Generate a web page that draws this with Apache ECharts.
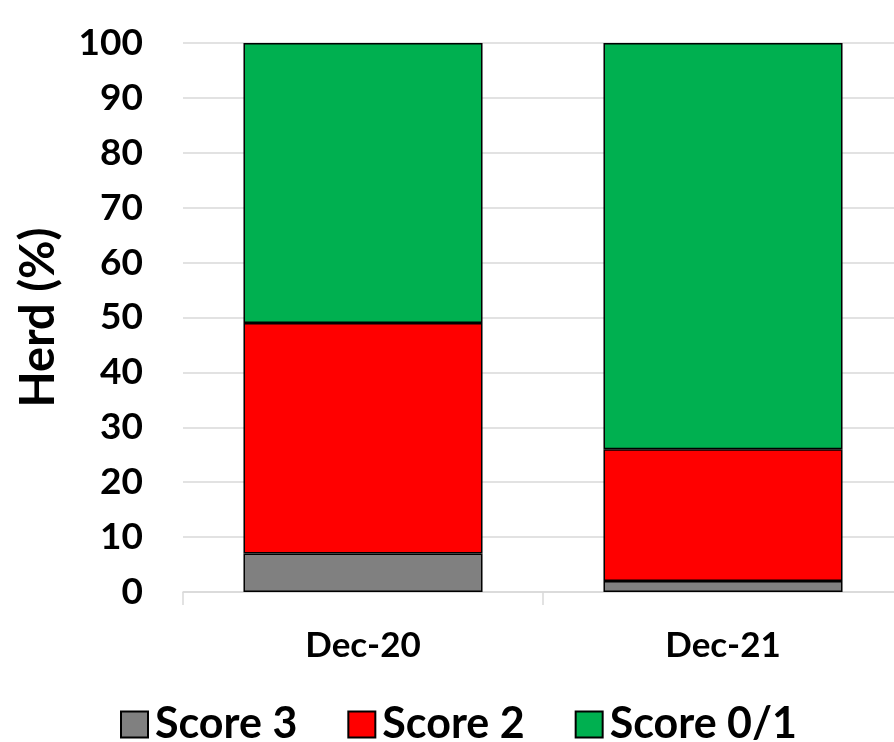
<!DOCTYPE html>
<html>
<head>
<meta charset="utf-8">
<script src="https://cdn.jsdelivr.net/npm/echarts@6/dist/echarts.min.js"></script>
<style>html,body{margin:0;padding:0;background:#fff}#c{width:894px;height:742px}</style>
</head>
<body>
<div id="c"></div>
<script>
var categories = ['Dec-20', 'Dec-21'];
var score3 = [7, 2];
var score2 = [42, 24];
var score01 = [51, 74];
var yTicks = [0, 10, 20, 30, 40, 50, 60, 70, 80, 90, 100];

var FONT = 'Lato';
var chart = echarts.init(document.getElementById('c'));
function bar(name, data, color) {
  return {
    name: name, type: 'bar', stack: 'total', data: data, barWidth: '66.4%',
    itemStyle: { color: color, borderColor: '#000', borderWidth: 1.5 }
  };
}
chart.setOption({
  animation: false,
  grid: { left: 183, right: -9, top: 43, bottom: 150, outerBoundsMode: 'none', containLabel: false },
  legend: {
    left: 115, top: 698, itemWidth: 27, itemHeight: 26, itemGap: 50, icon: 'rect',
    textStyle: { fontFamily: FONT, fontWeight: 'bold', fontSize: 43, color: '#000', padding: [0, 0, 0, 2] },
    data: ['Score 3', 'Score 2', 'Score 0/1']
  },
  xAxis: {
    type: 'category', data: categories,
    axisLine: { lineStyle: { color: '#d9d9d9', width: 1.5 } },
    axisTick: { show: true, length: 13, lineStyle: { color: '#d9d9d9', width: 1.5 } },
    axisLabel: { fontFamily: FONT, fontWeight: 'bold', fontSize: 35, color: '#000', margin: 36 }
  },
  yAxis: {
    type: 'value', min: 0, max: 100, interval: 10,
    name: 'Herd (%)', nameLocation: 'middle', nameGap: 121,
    nameTextStyle: { fontFamily: FONT, fontWeight: 'bold', fontSize: 47, color: '#000' },
    axisLine: { show: false }, axisTick: { show: false },
    splitLine: { lineStyle: { color: '#d9d9d9', width: 1.5 } },
    axisLabel: { fontFamily: FONT, fontWeight: 'bold', fontSize: 37, color: '#000', margin: 40,
      formatter: function (v) { return yTicks.indexOf(v) >= 0 ? String(v) : ''; } }
  },
  series: [
    bar('Score 3', score3, '#808080'),
    bar('Score 2', score2, '#ff0000'),
    bar('Score 0/1', score01, '#00b050')
  ]
});
</script>
</body>
</html>
